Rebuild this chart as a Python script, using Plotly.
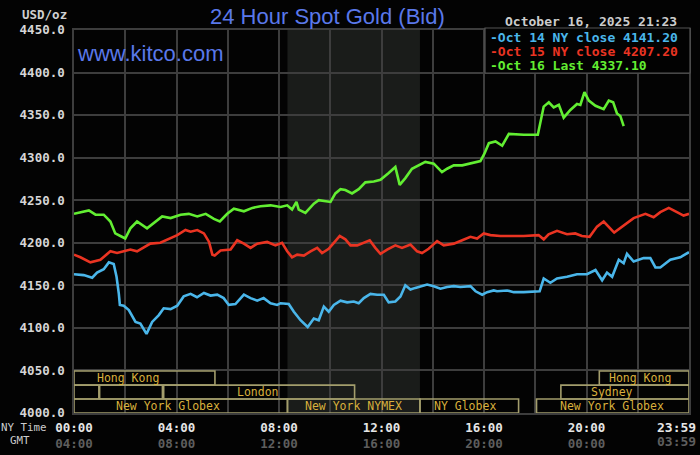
import plotly.graph_objects as go

# ---------------- data (hours since 00:00 NY time) ----------------
oct14_t = [0, 0.38, 0.71, 0.9, 1.16, 1.36, 1.55, 1.66, 1.75, 1.79,
           1.94, 2.14, 2.4, 2.59, 2.83, 3.05, 3.31, 3.5, 3.77, 4.03,
           4.28, 4.55, 4.8, 5.07, 5.33, 5.59, 5.84, 6.04, 6.3, 6.63,
           6.89, 7.15, 7.4, 7.67, 7.93,
           8.06, 8.38, 8.58, 8.84, 9.12, 9.36, 9.55, 9.75, 9.94, 10.14,
           10.4, 10.66, 10.92, 11.11, 11.31, 11.57, 11.83, 12.09, 12.28, 12.54,
           12.74, 12.93, 13.13, 13.32, 13.52, 13.78, 14.04, 14.3, 14.56, 14.82,
           15.08, 15.47, 15.67, 15.93, 16.12, 16.38,
           16.51, 16.9, 17.16, 17.55, 18.17, 18.33, 18.59, 18.85, 19.24, 19.63,
           20.02, 20.35, 20.61, 20.8, 21.0, 21.26, 21.45, 21.58, 21.84, 22.23,
           22.49, 22.69, 22.88, 23.27, 23.66, 24.0]
oct14_v = [4163, 4162, 4159, 4165, 4169, 4177, 4175, 4160, 4140, 4127,
           4126, 4121, 4107, 4105, 4093, 4107, 4115, 4123, 4122, 4126,
           4137, 4140, 4136, 4141, 4138, 4139, 4135, 4127, 4128, 4139,
           4135, 4132, 4135, 4129, 4127,
           4129, 4128, 4119, 4109, 4101, 4111, 4109, 4125, 4119, 4127,
           4132, 4130, 4131, 4129, 4135, 4140, 4139, 4139, 4130, 4131,
           4137, 4150, 4145, 4147, 4149, 4151, 4149, 4146, 4148, 4149,
           4148, 4149, 4143, 4139, 4142, 4144,
           4143, 4144, 4142, 4142, 4143, 4158, 4153, 4158, 4160, 4163,
           4163, 4168, 4156, 4165, 4160, 4180, 4176, 4187, 4178, 4182,
           4182, 4171, 4171, 4180, 4183, 4189]

oct15_t = [0, 0.25, 0.64, 1.03, 1.42, 1.68, 1.94, 2.2, 2.46, 2.72,
           2.98, 3.37, 3.77, 4.03, 4.35, 4.55, 4.81, 5.07, 5.27, 5.4,
           5.49, 5.72, 6.11, 6.37, 6.63, 6.89, 7.15, 7.54, 7.86, 8.12,
           8.32, 8.51, 8.71, 8.97, 9.23, 9.49, 9.68, 9.94, 10.14, 10.37,
           10.59, 10.79, 11.05, 11.31, 11.54, 11.76, 11.96, 12.22, 12.54, 12.8,
           13.13, 13.39, 13.58, 13.84, 14.17, 14.43, 14.82, 15.15, 15.47, 15.73,
           15.99, 16.25, 16.64, 17.03, 17.55, 18.13, 18.33, 18.52, 18.85, 19.24,
           19.56, 19.82, 20.12, 20.41, 20.67, 21.08, 21.45, 21.84, 22.3, 22.62,
           22.88, 23.21, 23.53, 23.79, 24.0]
oct15_v = [4186, 4183, 4177, 4180, 4190, 4188, 4190, 4192, 4190, 4194,
           4199, 4200, 4205, 4209, 4215, 4213, 4215, 4211, 4201, 4186,
           4185, 4191, 4192, 4203, 4199, 4194, 4199, 4201, 4197, 4200,
           4190, 4183, 4186, 4185, 4190, 4194, 4188, 4193, 4200, 4208,
           4204, 4197, 4197, 4200, 4203, 4194, 4187, 4192, 4197, 4194,
           4198, 4190, 4188, 4193, 4202, 4197, 4199, 4203, 4207, 4205,
           4211, 4209, 4208, 4208, 4208, 4209, 4204, 4210, 4214, 4210,
           4211, 4208, 4207, 4219, 4225, 4212, 4220, 4229, 4234, 4230,
           4236, 4241, 4236, 4232, 4234]

oct16_t = [0, 0.25, 0.58, 0.84, 1.16, 1.42, 1.61, 1.81, 2.0, 2.2,
           2.46, 2.85, 3.11, 3.44, 3.77, 4.16, 4.48, 4.81, 5.14, 5.46,
           5.69, 5.98, 6.24, 6.63, 6.96, 7.28, 7.67, 7.93,
           8.06, 8.32, 8.51, 8.68, 8.77, 9.03, 9.36, 9.55, 9.75, 10.01,
           10.2, 10.4, 10.59, 10.85, 11.11, 11.37, 11.7, 11.96, 12.28, 12.54,
           12.71, 12.93, 13.19, 13.45, 13.71, 14.04, 14.36, 14.56, 14.82, 15.15,
           15.47, 15.86, 16.02, 16.19,
           16.45, 16.71, 16.97, 17.55, 18.1, 18.2, 18.33, 18.53, 18.72, 18.92,
           19.11, 19.37, 19.63, 19.76, 19.92, 20.09, 20.35, 20.67, 20.87, 21.04,
           21.19, 21.32, 21.45]
oct16_v = [4234, 4236, 4238, 4233, 4233, 4225, 4211, 4208, 4205, 4217,
           4225, 4217, 4223, 4231, 4229, 4233, 4234, 4231, 4234, 4228,
           4225, 4234, 4240, 4237, 4241, 4243, 4244, 4243,
           4242, 4244, 4239, 4248, 4239, 4235, 4246, 4250, 4249, 4248,
           4258, 4263, 4262, 4258, 4263, 4271, 4272, 4274, 4282, 4289,
           4268, 4276, 4287, 4291, 4295, 4293, 4283, 4287, 4291, 4291,
           4293, 4296, 4305, 4317,
           4319, 4314, 4328, 4327, 4327, 4340, 4360, 4365, 4359, 4362,
           4347, 4356, 4363, 4362, 4377, 4367, 4361, 4357, 4367, 4365,
           4352, 4349, 4337]

legend_labels = ["-Oct 14 NY close 4141.20",
                 "-Oct 15 NY close 4207.20",
                 "-Oct 16 Last 4337.10"]

# market sessions: name, start hour, end hour, row (1 = bottom), label hour
session_names = ["Hong Kong", "", "", "London", "New York Globex", "New York NYMEX",
                 "NY Globex", "New York Globex", "Sydney", "Hong Kong"]
session_start = [0, 0, 1.0, 3.5, 0, 8.33, 13.5, 18.05, 19.0, 20.5]
session_end = [5.5, 0.97, 3.45, 10.95, 8.33, 13.5, 17.35, 24, 24, 24]
session_row = [3, 2, 2, 2, 1, 1, 1, 1, 2, 3]
session_label_at = [2.1, 0, 0, 7.17, 3.65, 10.9, 15.25, 21.0, 21.0, 22.1]
row_edges = [4000, 4016.4, 4032.8, 4049.3]

nymex_start, nymex_end = 8.33, 13.5

x_tickvals = [0, 4, 8, 12, 16, 20]
x_ny = ["00:00", "04:00", "08:00", "12:00", "16:00", "20:00"]
x_gmt = ["04:00", "08:00", "12:00", "16:00", "20:00", "00:00"]
last_ny, last_gmt = "23:59", "03:59"

# ---------------- figure ----------------
MONO = "DejaVu Sans Mono"
SANS = "Liberation Sans, Arial"
BLUE_T = "#5a78ea"
C14, C15, C16 = "#4ab6ea", "#ea3422", "#62ee32"
GRID = "#3d3d3d"
BOX = "#a39d6c"
GOLD = "#d9b03c"
GMT_C = "#5e5e5e"

L, R, T, B = 74, 11, 30, 42
W, H = 700, 455
PW, PH = W - L - R, H - T - B


def px(xp):
    return (xp - L) / PW


def py(yp):
    return (H - B - yp) / PH


fig = go.Figure()
for t, v, c in [(oct14_t, oct14_v, C14), (oct15_t, oct15_v, C15), (oct16_t, oct16_v, C16)]:
    fig.add_trace(go.Scatter(x=t, y=v, mode="lines", line=dict(color=c, width=2.6),
                             hoverinfo="skip", showlegend=False))

shapes = []
# NYMEX shading
shapes.append(dict(type="rect", xref="x", yref="paper", x0=nymex_start, x1=nymex_end,
                   y0=0, y1=1, fillcolor="#1a1c1a", line=dict(width=0), layer="below"))
annotations = []
for name, s, e, r, la in zip(session_names, session_start, session_end, session_row, session_label_at):
    shapes.append(dict(type="rect", xref="x", yref="y", x0=s, x1=e,
                       y0=row_edges[r - 1], y1=row_edges[r],
                       line=dict(color=BOX, width=1.6), fillcolor="rgba(0,0,0,0)", layer="above"))
    if name:
        annotations.append(dict(x=la, y=(row_edges[r - 1] + row_edges[r]) / 2, xref="x", yref="y",
                                xanchor="center", yanchor="middle",
                                text=name, showarrow=False,
                                font=dict(family=MONO, size=11.5, color=GOLD)))

# legend box
shapes.append(dict(type="rect", xref="paper", yref="paper", x0=px(485), x1=px(690),
                   y0=py(73), y1=py(28), fillcolor="#020202", line=dict(color="#555555", width=1.2),
                   layer="above"))
for i, (lab, c) in enumerate(zip(legend_labels, [C14, C15, C16])):
    annotations.append(dict(x=px(488), y=py(37.5 + 13.8 * i), xref="paper", yref="paper",
                            xanchor="left", yanchor="middle", text=lab, showarrow=False,
                            font=dict(family=MONO, size=13, color=c, weight="bold")))


def note(x, y, text, font, xanchor="center", xref="paper", xshift=0):
    return dict(x=x, y=y, xref=xref, yref="paper", xanchor=xanchor, yanchor="middle",
                xshift=xshift, text=text, showarrow=False, font=font)


annotations += [
    note(px(327), py(16), "24 Hour Spot Gold (Bid)", dict(family=SANS, size=22, color=BLUE_T)),
    note(px(75), py(54), "www.kitco.com", dict(family=SANS, size=22, color=BLUE_T), "left"),
    note(px(69), py(14), "USD/oz", dict(family=MONO, size=12.5, color="#cfcfcf", weight="bold"),
         "right"),
    note(px(679), py(21), "October 16, 2025 21:23",
         dict(family=MONO, size=13, color="#cccccc", weight="bold"), "right"),
    note(px(49), py(427), "NY Time", dict(family=MONO, size=10.8, color="#cccccc"), "right"),
    note(px(32), py(441), "GMT", dict(family=MONO, size=10.8, color="#cccccc"), "right"),
    note(24, py(427), last_ny, dict(family=MONO, size=13, color="#e6e6e6", weight="bold"),
         "center", "x", -13),
    note(24, py(441.5), last_gmt, dict(family=MONO, size=13, color=GMT_C, weight="bold"),
         "center", "x", -13),
]

ticktext = [f"{a}<br><span style='color:{GMT_C}'>{b}</span>" for a, b in zip(x_ny, x_gmt)]

fig.update_layout(
    width=W, height=H, margin=dict(l=L, r=R, t=T, b=B, autoexpand=False),
    paper_bgcolor="#030303", plot_bgcolor="#030303",
    shapes=shapes, annotations=annotations, showlegend=False,
    xaxis=dict(range=[0, 24], tickmode="array", tickvals=x_tickvals, ticktext=ticktext,
               showgrid=True, gridcolor=GRID, gridwidth=1.5, zeroline=False,
               minor=dict(tickmode="linear", tick0=0, dtick=2, showgrid=True, gridcolor=GRID,
                          gridwidth=1.5),
               showline=True, linecolor=GRID, linewidth=1.5, mirror=True,
               ticks="", ticklabelstandoff=2, automargin=False,
               tickfont=dict(family=MONO, size=12.5, color="#e6e6e6", weight="bold"),
               fixedrange=True),
    yaxis=dict(range=[4000, 4450], tickmode="linear", tick0=4000, dtick=50, tickformat=".1f",
               showgrid=True, gridcolor=GRID, gridwidth=1.5, zeroline=False,
               showline=True, linecolor=GRID, linewidth=1.5, mirror=True,
               ticks="", ticklabelstandoff=5, automargin=False,
               tickfont=dict(family=MONO, size=12.5, color="#d6d6d6", weight="bold"),
               fixedrange=True),
)

fig.write_html("out.html", config={"displayModeBar": False},
               post_script="document.body.style.margin='0';document.body.style.padding='0';"
                           "document.body.style.background='#030303';")
